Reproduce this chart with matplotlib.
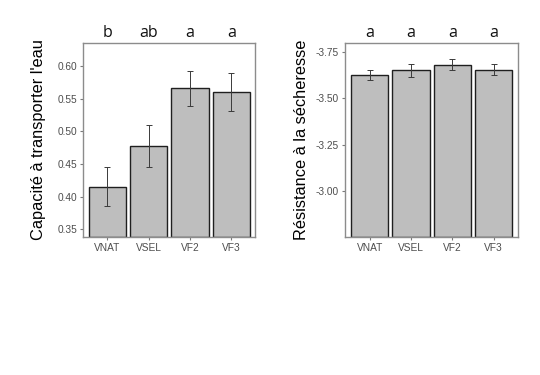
import matplotlib
matplotlib.use("Agg")
import matplotlib.pyplot as plt

groupes = ["VNAT", "VSEL", "VF2", "VF3"]

# capacite a transporter l'eau
cap_moy = [0.415, 0.478, 0.566, 0.560]
cap_err = [0.030, 0.032, 0.027, 0.029]
cap_lettres = ["b", "ab", "a", "a"]

# resistance a la secheresse (axe inverse)
res_moy = [-3.627, -3.651, -3.681, -3.654]
res_err = [0.025, 0.033, 0.029, 0.029]
res_lettres = ["a", "a", "a", "a"]

plt.rcParams["font.family"] = ["Liberation Sans", "DejaVu Sans"]

fig = plt.figure(figsize=(5.4, 3.75), dpi=100)
fig.patch.set_facecolor("white")

ax1 = fig.add_axes([0.154, 0.368, 0.319, 0.517])
ax2 = fig.add_axes([0.639, 0.368, 0.320, 0.517])

x = list(range(len(groupes)))


def style(ax):
    for s in ax.spines.values():
        s.set_color("#8c8c8c")
        s.set_linewidth(1.0)
    ax.tick_params(axis="both", colors="#7a7a7a", labelcolor="#4d4d4d",
                   labelsize=7.3, length=2.5, width=0.8, pad=2)
    ax.set_xticks(x)
    ax.set_xticklabels(groupes)


# panneau gauche
ax1.set_ylim(0.338, 0.635)
ax1.bar(x, [m - 0.338 for m in cap_moy], bottom=0.338, width=0.9,
        color="#bebebe", edgecolor="#1f1f1f", linewidth=1.0)
ax1.errorbar(x, cap_moy, yerr=cap_err, fmt="none", ecolor="#3a3a3a",
             elinewidth=0.7, capsize=2.5, capthick=0.7)
ax1.set_xlim(-0.58, 3.58)
ax1.set_yticks([0.35, 0.40, 0.45, 0.50, 0.55, 0.60])
ax1.set_yticklabels(["0.35", "0.40", "0.45", "0.50", "0.55", "0.60"])
ax1.set_ylabel("Capacité à transporter l'eau", fontsize=11.8, color="black", labelpad=8)
style(ax1)
for xi, l in zip(x, cap_lettres):
    ax1.text(xi, 1.012, l, transform=ax1.get_xaxis_transform(), ha="center",
             va="bottom", fontsize=11.5, color="#111111",
             family=["Open Sans", "DejaVu Sans"])

# panneau droit
bas = -2.754
ax2.set_ylim(bas, -3.798)
ax2.bar(x, [m - bas for m in res_moy], bottom=bas, width=0.9,
        color="#bebebe", edgecolor="#1f1f1f", linewidth=1.0)
ax2.errorbar(x, res_moy, yerr=res_err, fmt="none", ecolor="#3a3a3a",
             elinewidth=0.7, capsize=2.5, capthick=0.7)
ax2.set_xlim(-0.6, 3.59)
ax2.set_yticks([-3.00, -3.25, -3.50, -3.75])
ax2.set_yticklabels(["-3.00", "-3.25", "-3.50", "-3.75"])
ax2.set_ylabel("Résistance à la sécheresse", fontsize=11.8, color="black", labelpad=5)
style(ax2)
for xi, l in zip(x, res_lettres):
    ax2.text(xi, 1.012, l, transform=ax2.get_xaxis_transform(), ha="center",
             va="bottom", fontsize=11.5, color="#111111",
             family=["Open Sans", "DejaVu Sans"])

fig.savefig("out.png", dpi=100, facecolor="white")
